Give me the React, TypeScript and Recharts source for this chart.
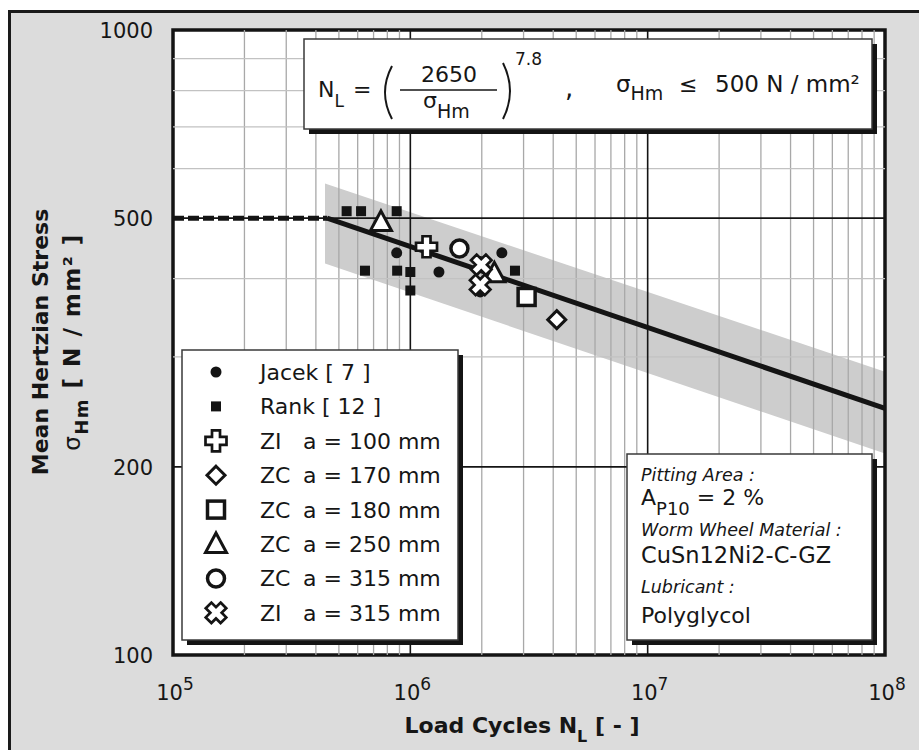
import { Area, CartesianGrid, ComposedChart, Line, ReferenceArea, ReferenceLine, Scatter, XAxis, YAxis } from 'recharts';

const FONT = '"DejaVu Sans", Verdana, sans-serif';
const INK = '#141414';
const TEXT = '#161616';

// axes and grid
const xTicks = [1e5, 1e6, 1e7, 1e8];
const yTicks = [100, 200, 500, 1000];
const xMajorGrid = [1e6, 1e7];
const xMinorGrid = [
  2e5, 3e5, 4e5, 5e5, 6e5, 7e5, 8e5, 9e5,
  2e6, 3e6, 4e6, 5e6, 6e6, 7e6, 8e6, 9e6,
  2e7, 3e7, 4e7, 5e7, 6e7, 7e7, 8e7, 9e7,
];
const yMajorGrid = [200, 500];
const yMinorGrid = [300, 400, 600, 700, 800, 900];

// scatter band of the test results
const scatterBand = [
  { n: 4.37e5, band: [423, 568] },
  { n: 1e8, band: [210, 284] },
];

// endurance limit and life line
const enduranceLine = [
  { n: 1e5, s: 500 },
  { n: 4.46e5, s: 500 },
];
const lifeLine = [
  { n: 4.46e5, s: 500 },
  { n: 1e8, s: 248 },
];

// test points
const jacek = [
  { n: 8.76e5, s: 440 },
  { n: 1.32e6, s: 410 },
  { n: 2.43e6, s: 440 },
  { n: 1.97e6, s: 426 },
  { n: 1.97e6, s: 381 },
];
const rank = [
  { n: 5.39e5, s: 513 },
  { n: 6.2e5, s: 513 },
  { n: 8.76e5, s: 513 },
  { n: 6.44e5, s: 412 },
  { n: 8.8e5, s: 412 },
  { n: 1.0e6, s: 410 },
  { n: 1.0e6, s: 383 },
  { n: 2.76e6, s: 412 },
];
const zi100 = [{ n: 1.17e6, s: 450 }];
const zc170 = [{ n: 4.14e6, s: 344 }];
const zc180 = [{ n: 3.09e6, s: 374 }];
const zc250 = [
  { n: 7.52e5, s: 493 },
  { n: 2.26e6, s: 408 },
];
const zc315 = [{ n: 1.61e6, s: 447 }];
const zi315 = [
  { n: 1.99e6, s: 421 },
  { n: 1.97e6, s: 391 },
];

type Kind = 'dot' | 'square' | 'plus' | 'diamond' | 'box' | 'triangle' | 'ring' | 'cross';

const series: { name: string; dist: string; kind: Kind; data: { n: number; s: number }[] }[] = [
  { name: 'Jacek [ 7 ]', dist: '', kind: 'dot', data: jacek },
  { name: 'Rank [ 12 ]', dist: '', kind: 'square', data: rank },
  { name: 'ZI', dist: 'a = 100 mm', kind: 'plus', data: zi100 },
  { name: 'ZC', dist: 'a = 170 mm', kind: 'diamond', data: zc170 },
  { name: 'ZC', dist: 'a = 180 mm', kind: 'box', data: zc180 },
  { name: 'ZC', dist: 'a = 250 mm', kind: 'triangle', data: zc250 },
  { name: 'ZC', dist: 'a = 315 mm', kind: 'ring', data: zc315 },
  { name: 'ZI', dist: 'a = 315 mm', kind: 'cross', data: zi315 },
];

function plusPoints(cx: number, cy: number) {
  const a = 4;
  const l = 10.5;
  const p = [
    [-a, -l], [a, -l], [a, -a], [l, -a], [l, a], [a, a],
    [a, l], [-a, l], [-a, a], [-l, a], [-l, -a], [-a, -a],
  ];
  return p.map(([dx, dy]) => `${cx + dx},${cy + dy}`).join(' ');
}

function Marker({ kind, cx, cy }: { kind: Kind; cx: number; cy: number }) {
  switch (kind) {
    case 'dot':
      return <circle cx={cx} cy={cy} r={5.5} fill={INK} />;
    case 'square':
      return <rect x={cx - 5} y={cy - 5} width={10} height={10} fill={INK} />;
    case 'plus':
      return <polygon points={plusPoints(cx, cy)} fill="#fff" stroke={INK} strokeWidth={2.7} />;
    case 'cross':
      return (
        <polygon
          points={plusPoints(cx, cy)}
          transform={`rotate(45 ${cx} ${cy})`}
          fill="#fff"
          stroke={INK}
          strokeWidth={2.7}
        />
      );
    case 'diamond':
      return (
        <polygon
          points={`${cx},${cy - 9} ${cx + 9},${cy} ${cx},${cy + 9} ${cx - 9},${cy}`}
          fill="#fff"
          stroke={INK}
          strokeWidth={3}
        />
      );
    case 'box':
      return <rect x={cx - 8.5} y={cy - 8.5} width={17} height={17} fill="#fff" stroke={INK} strokeWidth={3.5} />;
    case 'triangle':
      return (
        <polygon
          points={`${cx},${cy - 11} ${cx + 10.5},${cy + 8.5} ${cx - 10.5},${cy + 8.5}`}
          fill="#fff"
          stroke={INK}
          strokeWidth={3}
          strokeLinejoin="miter"
        />
      );
    case 'ring':
      return <circle cx={cx} cy={cy} r={8.5} fill="#fff" stroke={INK} strokeWidth={3.5} />;
  }
  return null;
}

function YTick(props: any) {
  const { x, y, payload } = props;
  return (
    <text x={x - 20} y={y + 8} textAnchor="end" fontFamily={FONT} fontSize={21} fill={TEXT}>
      {payload.value}
    </text>
  );
}

function XTick(props: any) {
  const { x, y, payload } = props;
  const exp = Math.round(Math.log10(payload.value));
  return (
    <text x={x + 2} y={y + 45} textAnchor="middle" fontFamily={FONT} fontSize={21} fill={TEXT}>
      10
      <tspan dy={-10} fontSize={17}>
        {exp}
      </tspan>
    </text>
  );
}

function Box({ x, y, w, h }: { x: number; y: number; w: number; h: number }) {
  return (
    <g>
      <rect x={x + 5} y={y + 5} width={w} height={h} fill={INK} />
      <rect x={x} y={y} width={w} height={h} fill="#fff" stroke="#3a3a3a" strokeWidth={1.5} />
    </g>
  );
}

function Overlay() {
  return (
    <svg width={919} height={750} style={{ position: 'absolute', left: 0, top: 0, pointerEvents: 'none' }}>
      <g fontFamily={FONT} fill={TEXT}>
        {/* formula */}
        <Box x={304} y={39} w={568} h={90} />
        <text x={318} y={97} fontSize={22}>
          N<tspan dy={10} fontSize={17}>L</tspan>
        </text>
        <text x={353} y={97} fontSize={22}>=</text>
        <path d="M392,66 Q378,92.5 392,119" fill="none" stroke={TEXT} strokeWidth={2} />
        <text x={449} y={82} fontSize={22} textAnchor="middle">2650</text>
        <line x1={400} y1={90} x2={497} y2={90} stroke={TEXT} strokeWidth={1.6} />
        <text x={423} y={108} fontSize={22}>
          σ<tspan dy={10} fontSize={19}>Hm</tspan>
        </text>
        <path d="M503,63 Q517,91 503,119" fill="none" stroke={TEXT} strokeWidth={2} />
        <text x={515} y={65} fontSize={17}>7.8</text>
        <text x={565} y={97} fontSize={26}>,</text>
        <text x={616} y={92} fontSize={23}>
          σ<tspan dy={8} fontSize={19}>Hm</tspan>
        </text>
        <text x={679} y={92} fontSize={22}>≤</text>
        <text x={715} y={92} fontSize={23}>500 N / mm²</text>

        {/* legend */}
        <Box x={182} y={350} w={276} h={290} />
        {series.map((s, i) => {
          const cy = 372 + i * 34.4;
          return (
            <g key={i}>
              <Marker kind={s.kind} cx={216} cy={cy} />
              <text x={260} y={cy + 8} fontSize={22}>{s.name}</text>
              {s.dist && (
                <text x={303} y={cy + 8} fontSize={22}>{s.dist}</text>
              )}
            </g>
          );
        })}

        {/* test conditions */}
        <Box x={627} y={454} w={245} h={186} />
        <text x={641} y={481} fontSize={17.5} fontStyle="italic">Pitting Area :</text>
        <text x={641} y={505} fontSize={22}>
          A<tspan dy={10} fontSize={18}>P10</tspan>
          <tspan dy={-10}> = 2 %</tspan>
        </text>
        <text x={641} y={536} fontSize={17.5} fontStyle="italic">Worm Wheel Material :</text>
        <text x={641} y={563} fontSize={22.5}>CuSn12Ni2-C-GZ</text>
        <text x={641} y={593} fontSize={17.5} fontStyle="italic">Lubricant :</text>
        <text x={641} y={623} fontSize={22}>Polyglycol</text>

        {/* axis titles */}
        <text x={522} y={733} fontSize={22} fontWeight="bold" textAnchor="middle">
          Load Cycles N<tspan dy={9} fontSize={16}>L</tspan>
          <tspan dy={-9}> [ - ]</tspan>
        </text>
        <text transform="rotate(-90)" x={-342} y={48} fontSize={22} fontWeight="bold" textAnchor="middle">
          Mean Hertzian Stress
        </text>
        <text
          transform="rotate(-90)"
          x={-342}
          y={80}
          fontSize={23}
          fontWeight="bold"
          textAnchor="middle"
          letterSpacing={1.5}
        >
          <tspan fontWeight="normal">σ</tspan>
          <tspan dy={8} fontSize={18}>Hm</tspan>
          <tspan dy={-8}> [ N / mm² ]</tspan>
        </text>
      </g>
    </svg>
  );
}

export default function App() {
  return (
    <div style={{ position: 'absolute', left: 0, top: 0, width: 919, height: 750, overflow: 'hidden', background: '#fff' }}>
      <div
        style={{
          position: 'absolute',
          left: 8,
          top: 10,
          width: 911,
          height: 740,
          boxSizing: 'border-box',
          background: '#dcdcdc',
          borderLeft: '3px solid #1a1a1a',
          borderTop: '3px solid #1a1a1a',
        }}
      />
      <div style={{ position: 'absolute', left: 0, top: 0 }}>
        <ComposedChart
          width={919}
          height={750}
          data={scatterBand}
          margin={{ top: 30, right: 34, bottom: 55, left: 113 }}
        >
          <CartesianGrid fill="#fff" fillOpacity={1} horizontal={false} vertical={false} />
          <XAxis
            dataKey="n"
            type="number"
            scale="log"
            domain={[1e5, 1e8]}
            ticks={xTicks}
            allowDataOverflow
            axisLine={false}
            tickLine={false}
            tickSize={0}
            tickMargin={0}
            height={40}
            tick={<XTick />}
            interval={0}
          />
          <YAxis
            type="number"
            scale="log"
            domain={[100, 1000]}
            ticks={yTicks}
            allowDataOverflow
            axisLine={false}
            tickLine={false}
            tickSize={0}
            tickMargin={0}
            width={60}
            tick={<YTick />}
            interval={0}
          />
          <Area
            type="linear"
            dataKey="band"
            stroke="none"
            fill="#cdcdcd"
            fillOpacity={1}
            isAnimationActive={false}
          />
          {xMinorGrid.map((v) => (
            <ReferenceLine key={`xm${v}`} x={v} stroke="#a8a8a8" strokeWidth={1.3} />
          ))}
          {yMinorGrid.map((v) => (
            <ReferenceLine key={`ym${v}`} y={v} stroke="#c2c2c2" strokeWidth={1.3} />
          ))}
          {xMajorGrid.map((v) => (
            <ReferenceLine key={`xM${v}`} x={v} stroke={INK} strokeWidth={1.6} />
          ))}
          {yMajorGrid.map((v) => (
            <ReferenceLine key={`yM${v}`} y={v} stroke={INK} strokeWidth={1.6} />
          ))}
          <ReferenceArea
            x1={1e5}
            x2={1e8}
            y1={100}
            y2={1000}
            fill="none"
            stroke={INK}
            strokeWidth={3.5}
            ifOverflow="visible"
          />
          <Line
            data={enduranceLine}
            dataKey="s"
            type="linear"
            stroke={INK}
            strokeWidth={5}
            strokeDasharray="11 4"
            dot={false}
            isAnimationActive={false}
          />
          <Line
            data={lifeLine}
            dataKey="s"
            type="linear"
            stroke={INK}
            strokeWidth={5}
            dot={false}
            isAnimationActive={false}
          />
          {series.map((s, i) => (
            <Scatter
              key={i}
              name={s.name}
              data={s.data}
              dataKey="s"
              isAnimationActive={false}
              shape={(p: any) => <Marker kind={s.kind} cx={p.cx} cy={p.cy} />}
            />
          ))}
        </ComposedChart>
      </div>
      <Overlay />
    </div>
  );
}
